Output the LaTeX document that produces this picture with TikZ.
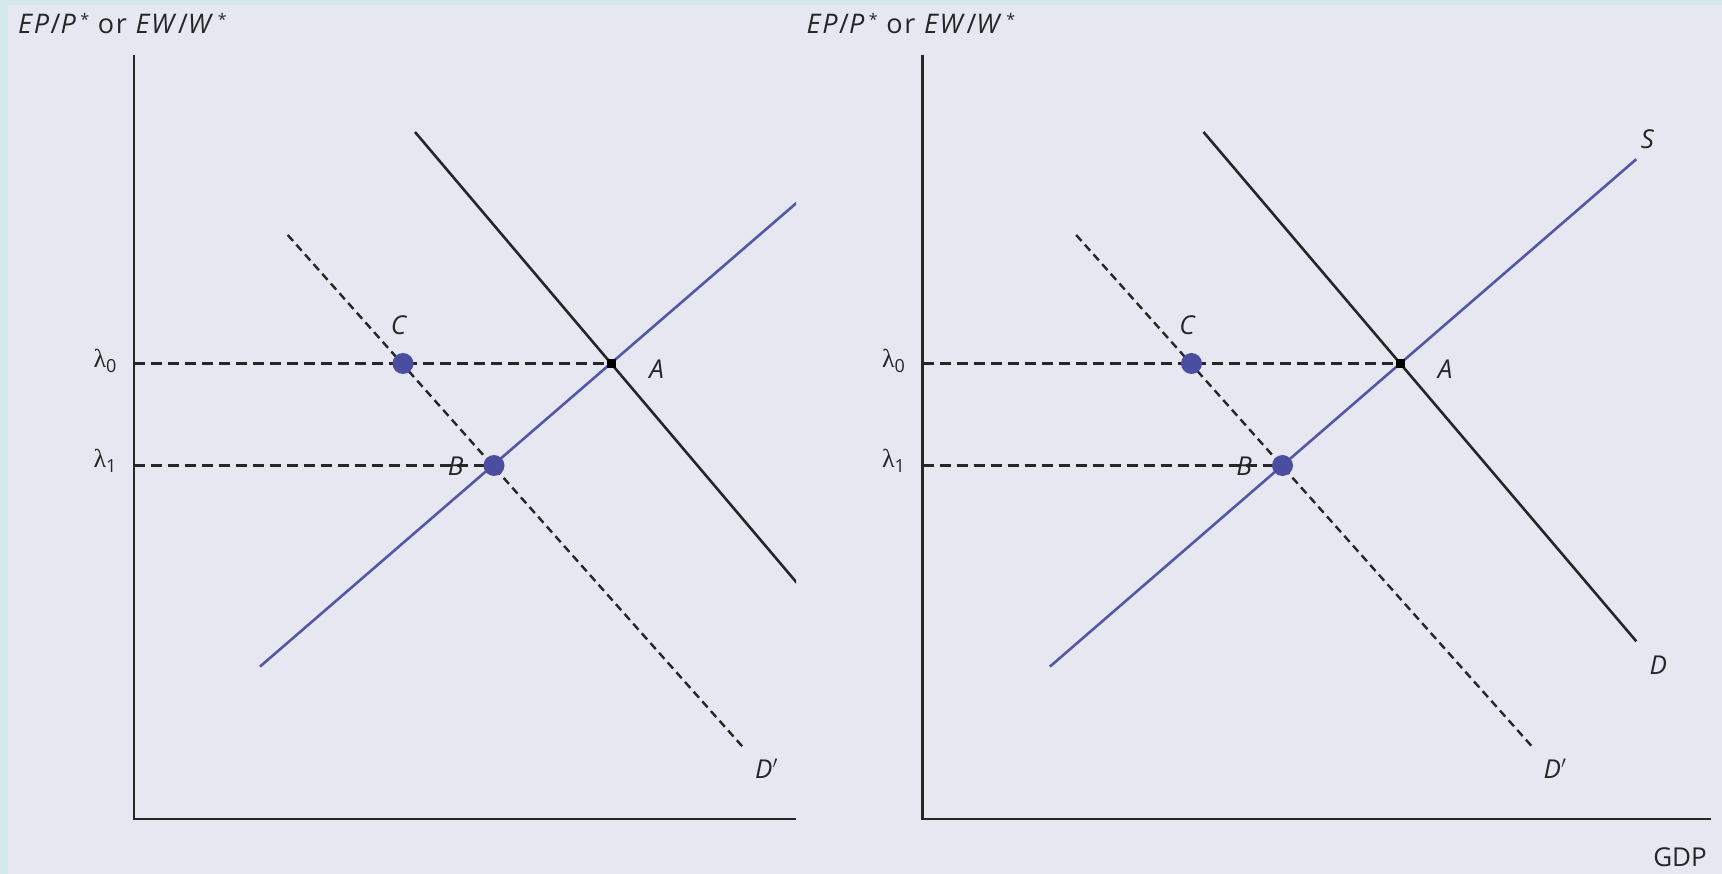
\documentclass[tikz,border=0pt]{standalone}
\usepackage{fontspec}
\setmainfont{Open Sans}
\newfontfamily\lamfont{Liberation Serif}
\newfontfamily\ttlfont[LetterSpace=6]{Open Sans}
\definecolor{bgcol}{HTML}{E7E7F2}
\definecolor{edgecol}{HTML}{D3E9EC}
\definecolor{supcol}{HTML}{5257A6}
\definecolor{dotcol}{HTML}{4B4EA0}
\definecolor{inkcol}{HTML}{262626}
\tikzset{
  axisline/.style={draw=inkcol, line width=2.6pt},
  demand/.style={draw=inkcol, line width=2.6pt},
  supply/.style={draw=supcol, line width=2.6pt},
  guide/.style={draw=inkcol, line width=2.4pt, dash pattern=on 11pt off 6pt},
  shifted/.style={draw=inkcol, line width=2.4pt, dash pattern=on 8pt off 5pt},
  bluedot/.style={circle, fill=dotcol, minimum size=21pt, inner sep=0pt},
  blacksq/.style={rectangle, fill=black, minimum size=9pt, inner sep=0pt},
  lbl/.style={font=\fontsize{26}{28}\selectfont\itshape, inner sep=0pt, text=inkcol},
  lam/.style={font=\fontsize{26}{28}\selectfont, inner sep=0pt, text=inkcol},
  ttl/.style={font=\ttlfont\fontsize{27}{28}\selectfont, inner sep=0pt, text=inkcol, anchor=base west},
}
\newcommand{\ttlstar}{\hspace{3pt}\raisebox{.32em}{\fontsize{16}{16}\selectfont*}}
\newcommand{\ttltext}{\textit{EP}/\textit{P}\ttlstar\ or \textit{EW}/\textit{W}\ttlstar}
\newcommand{\lamsub}[1]{{\lamfont λ}\raisebox{-.2em}{\fontsize{18}{18}\selectfont #1}}
\begin{document}
\begin{tikzpicture}[x=1pt,y=-1pt]
\useasboundingbox (0,0) rectangle (1722,874);
\fill[edgecol] (0,0) rectangle (1722,874);
\fill[bgcol] (8,5) rectangle (1722,874);

% ---------- left panel ----------
\coordinate (LO) at (134,819);
\coordinate (LT) at (134,55);
\coordinate (LX) at (796,819);
\coordinate (LA) at (611.7,363.5);
\coordinate (LB) at (494,465.5);
\coordinate (LC) at (403,363.5);
\coordinate (Ll0) at (134,363.5);
\coordinate (Ll1) at (134,465.5);
\coordinate (LDs) at (415,132);
\coordinate (LDe) at (808,596);
\coordinate (LSs) at (260,666.6);
\coordinate (LSe) at (808,193);
\coordinate (LPs) at (287.7,235);
\coordinate (LPe) at (744.6,749);

\draw[axisline] (LT) -- (LO) -- (LX);
\draw[guide] (Ll0) -- (LA);
\draw[guide] (Ll1) -- (LB);
\begin{scope}
  \clip (0,0) rectangle (796,874);
  \draw[demand] (LDs) -- (LDe);
  \draw[supply] (LSs) -- (LSe);
\end{scope}
\draw[shifted] (LPs) -- (LPe);
\node[bluedot] (lc) at (LC) {};
\node[bluedot] (lb) at (LB) {};
\node[blacksq] (la) at (LA) {};
\node[lbl] (lcl) at (398.6,325) {C};
\node[lbl] (lal) at (656.7,369) {A};
\node[lbl] (lbl) at (455.7,466) {B};
\node[lbl] (ldp) at (766.5,768.7) {D$'$};
\node[lam] (ll0) at (105,361) {\lamsub{0}};
\node[lam] (ll1) at (105,461) {\lamsub{1}};
\node[ttl] (lt) at (18,34) {\ttltext};

% ---------- right panel ----------
\coordinate (RO) at (922.5,819);
\coordinate (RT) at (922.5,55);
\coordinate (RX) at (1711,819);
\coordinate (RA) at (1400.2,363.5);
\coordinate (RB) at (1282.5,465.5);
\coordinate (RC) at (1191.5,363.5);
\coordinate (Rl0) at (922.5,363.5);
\coordinate (Rl1) at (922.5,465.5);
\coordinate (RDs) at (1203.5,132);
\coordinate (RDe) at (1636.3,641.3);
\coordinate (RSs) at (1049.9,666.6);
\coordinate (RSe) at (1636.3,159.2);
\coordinate (RPs) at (1076.2,235);
\coordinate (RPe) at (1534.2,749);

\draw[axisline] (RT) -- (RO) -- (RX);
\draw[guide] (Rl0) -- (RA);
\draw[guide] (Rl1) -- (RB);
\draw[demand] (RDs) -- (RDe);
\draw[supply] (RSs) -- (RSe);
\draw[shifted] (RPs) -- (RPe);
\node[bluedot] (rc) at (RC) {};
\node[bluedot] (rb) at (RB) {};
\node[blacksq] (ra) at (RA) {};
\node[lbl] (rcl) at (1187.1,325) {C};
\node[lbl] (ral) at (1445.2,369) {A};
\node[lbl] (rbl) at (1244.2,466) {B};
\node[lbl] (rdp) at (1555,768.7) {D$'$};
\node[lbl] (rdl) at (1658.3,665.5) {D};
\node[lbl] (rsl) at (1647.3,139.5) {S};
\node[lam] (rl0) at (893.5,361) {\lamsub{0}};
\node[lam] (rl1) at (893.5,461) {\lamsub{1}};
\node[ttl] (rt) at (806.5,34) {\ttltext};
\node[lam] (gdp) at (1680,857) {GDP};
\end{tikzpicture}
\end{document}
